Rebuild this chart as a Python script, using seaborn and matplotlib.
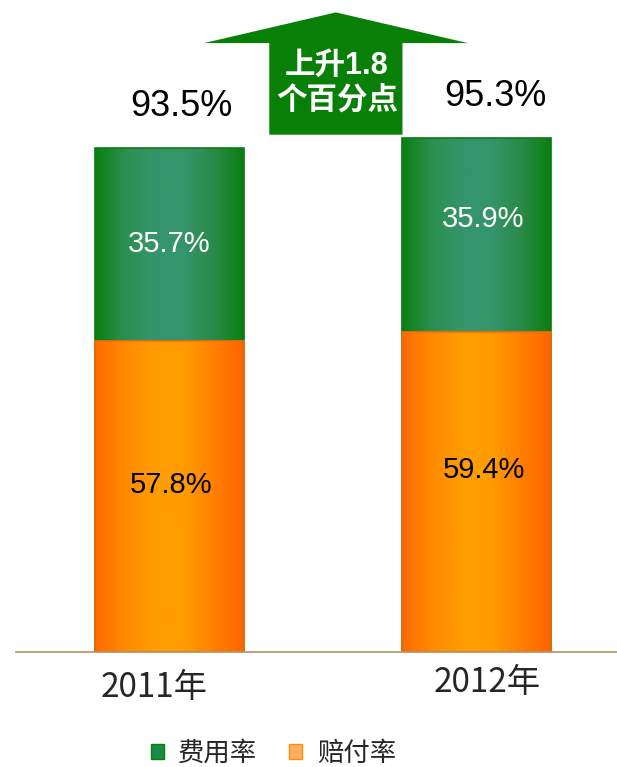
import numpy as np
import matplotlib
matplotlib.use('Agg')
import matplotlib.pyplot as plt
import matplotlib.patches as mpatches
import matplotlib.transforms as mtransforms
from matplotlib.colors import LinearSegmentedColormap
import seaborn as sns
import pandas as pd

years = ['2011年', '2012年']
expense_rate = [35.7, 35.9]
claims_rate = [57.8, 59.4]
combined_rate = [93.5, 95.3]
rise_text = '上升1.8\n个百分点'

sns.set_style('white')
plt.rcParams['font.family'] = ['Noto Sans CJK SC', 'DejaVu Sans']
num_font = ['Liberation Sans', 'DejaVu Sans']

df = pd.DataFrame({'year': years, 'expense': expense_rate,
                   'claims': claims_rate, 'total': combined_rate})

fig = plt.figure(figsize=(6.17, 7.67), dpi=100)
ax = fig.add_axes([0.026, 0.15, 0.995, 0.85])

bar_w = 0.485
sns.barplot(data=df, x='year', y='total', color='#138a2a', width=bar_w,
            ax=ax, saturation=1)
sns.barplot(data=df, x='year', y='claims', color='#ff8000', width=bar_w,
            ax=ax, saturation=1)

green_cmap = LinearSegmentedColormap.from_list(
    'g', ['#0a7f10', '#2a9050', '#35956a', '#35956a', '#2a8a48', '#0a7f10'])
orange_cmap = LinearSegmentedColormap.from_list(
    'o', ['#ff6a00', '#ff8a00', '#ff9c00', '#ff9c00', '#ff8000', '#ff6400'])
grad = np.linspace(0, 1, 256).reshape(1, -1)

n = len(years)
for i, p in enumerate(ax.patches):
    cmap = green_cmap if i < n else orange_cmap
    x0, y0 = p.get_x(), p.get_y()
    w, h = p.get_width(), p.get_height()
    im = ax.imshow(grad, cmap=cmap, aspect='auto',
                   extent=[x0, x0 + w, y0, y0 + h], zorder=p.get_zorder() + 0.1)
    im.set_clip_path(p)
    edge = '#0c7a18' if i < n else '#ff6a00'
    ax.add_patch(mpatches.Rectangle((x0, y0), w, h, fill=False,
                                    edgecolor=edge, linewidth=1.2,
                                    zorder=p.get_zorder() + 0.2))

ax.set_xlim(-0.5, 1.5)
ax.set_ylim(0, 121)

# value labels
claim_dx = [0.006, 0.026]
claim_dy = [2.1, 4.1]
exp_dx = [0.0, 0.023]
exp_dy = [0.0, 3.0]
tot_dx = [0.04, 0.06]
for i in range(n):
    ax.text(i + claim_dx[i], claims_rate[i] / 2 + claim_dy[i], f'{claims_rate[i]}%',
            ha='center', va='center', fontsize=21, color='black',
            family=num_font, zorder=5)
    ax.text(i + exp_dx[i], claims_rate[i] + expense_rate[i] / 2 + exp_dy[i],
            f'{expense_rate[i]}%', ha='center', va='center', fontsize=21,
            color='white', family=num_font, zorder=5)
    ax.text(i + tot_dx[i], combined_rate[i] + 7.7, f'{combined_rate[i]}%',
            ha='center', va='center', fontsize=26, color='black',
            family=num_font, zorder=5)

# arrow showing the rise
cx = 0.542
ax.add_patch(mpatches.Polygon(
    [[cx - 0.217, 96], [cx - 0.217, 113], [cx - 0.43, 113], [cx, 118.7],
     [cx + 0.43, 113], [cx + 0.217, 113], [cx + 0.217, 96]],
    closed=True, facecolor='#088008', edgecolor='none', zorder=4))
ax.text(cx + 0.003, 105.6, rise_text, ha='center', va='center', fontsize=22,
        fontweight='bold', color='white', linespacing=1.22, zorder=6,
        family=['Liberation Sans', 'Noto Sans CJK SC'])

sns.despine(ax=ax, left=True)
ax.spines['bottom'].set_color('#b8906a')
ax.spines['bottom'].set_linewidth(1.2)
ax.set_yticks([])
ax.set_xlabel('')
ax.set_ylabel('')
ax.set_xticks([0, 1])
ax.set_xticklabels(years, family=['Liberation Sans Narrow', 'Noto Sans CJK SC'])
ax.tick_params(axis='x', which='major', length=0, labelsize=24, pad=13)
ax.set_xticks([-0.5, 0.5, 1.5], minor=True)
ax.tick_params(axis='x', which='minor', direction='in', length=7,
               color='#b8906a', width=1.2)
label_shift = [(-0.15, 0.0), (0.11, 0.05)]
for lab, (dx, dy) in zip(ax.get_xticklabels(), label_shift):
    lab.set_transform(lab.get_transform() +
                      mtransforms.ScaledTranslation(dx, dy, fig.dpi_scale_trans))

handles = [mpatches.Patch(facecolor='#1a8a4a', edgecolor='#0a7f0a', label='费用率'),
           mpatches.Patch(facecolor='#ffb060', edgecolor='#ff9000', label='赔付率')]
fig.legend(handles=handles, loc='center', bbox_to_anchor=(0.443, 0.018),
           ncol=2, frameon=False, fontsize=19, handlelength=0.5,
           handleheight=0.5, handletextpad=0.55, columnspacing=1.2,
           borderpad=0)

fig.savefig('out.png', dpi=100)
